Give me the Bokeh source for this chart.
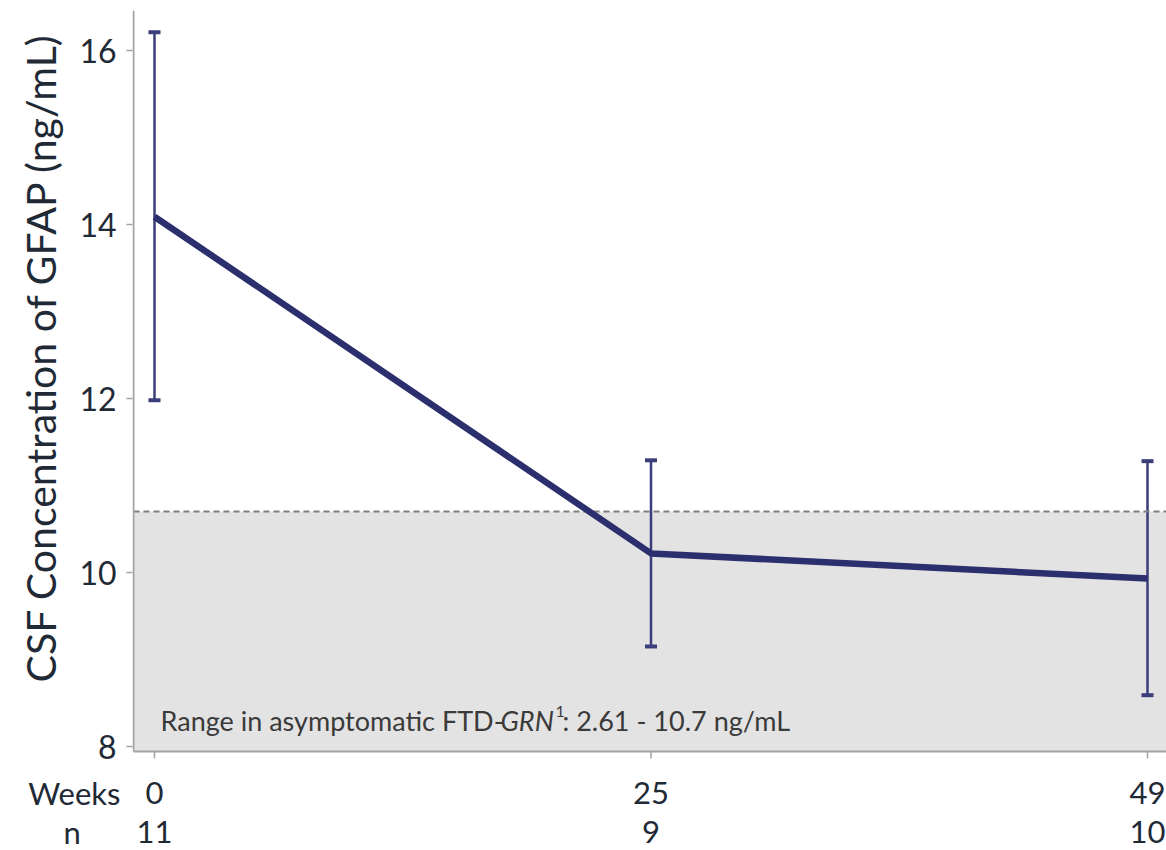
from bokeh.plotting import figure
from bokeh.layouts import column
from bokeh.models import (Range1d, BoxAnnotation, Whisker, TeeHead, Title,
                          ColumnDataSource, FixedTicker)
from bokeh.core.properties import value
from bokeh.embed import file_html
from bokeh.resources import INLINE

# CSF GFAP concentration by visit
weeks = ["0", "25", "49"]
n_subjects = ["11", "9", "10"]
gfap_mean = [14.09, 10.22, 9.93]
gfap_upper = [16.21, 11.29, 11.28]
gfap_lower = [11.98, 9.15, 8.59]
reference_upper = 10.7
y_ticks = [8, 10, 12, 14, 16]

FONT = "Lato"
TEXT = "#1f2a36"
NAVY = "#2c2f6d"
BAR = "#3a3e7b"
AXIS = "#a3a3a3"
NBSP = "\u00a0"

W = 1166
LEFT = 132          # frame left edge in pixels
STEP = 496.5        # pixels between visits
X0_PX = 154         # pixel position of the first visit
PX_PER_UNIT = 87.0  # pixels per ng/mL
pos = list(range(len(weeks)))
x_lo = (LEFT - X0_PX) / STEP
x_hi = (W - X0_PX) / STEP
x_axis = (LEFT + 1 - X0_PX) / STEP

y_top = 16.46
y_axis = 7.943                      # value at the horizontal axis line
H_MAIN = 770
y_bottom = y_top - (H_MAIN - 10) / PX_PER_UNIT

src = ColumnDataSource(dict(x=pos, mean=gfap_mean, upper=gfap_upper, lower=gfap_lower))

# ---- main panel -------------------------------------------------------------
p = figure(width=W, height=H_MAIN, output_backend="svg", toolbar_location=None,
           x_range=Range1d(x_lo, x_hi), y_range=Range1d(y_bottom, y_top),
           x_axis_location=None,
           min_border_left=LEFT, min_border_right=0, min_border_top=10,
           min_border_bottom=0)
p.outline_line_color = None
p.xgrid.visible = False
p.ygrid.visible = False
p.border_fill_color = "white"

# shaded range observed in asymptomatic carriers
p.add_layout(BoxAnnotation(left=x_axis, bottom=y_axis, top=reference_upper,
                           fill_color="#e3e3e3", fill_alpha=1.0,
                           line_color=None, level="underlay"))
p.segment(x0=[x_axis], y0=[reference_upper], x1=[x_hi], y1=[reference_upper],
          line_color="#7f7f7f", line_width=2, line_dash="6 4")

# axis lines and x ticks
p.segment(x0=[x_axis], y0=[y_axis], x1=[x_axis], y1=[y_top],
          line_color=AXIS, line_width=2)
p.segment(x0=[x_axis], y0=[y_axis], x1=[x_hi], y1=[y_axis],
          line_color=AXIS, line_width=2)
p.segment(x0=pos, y0=[y_axis] * len(pos), x1=pos,
          y1=[y_axis - 7 / PX_PER_UNIT] * len(pos), line_color=AXIS, line_width=1.5)

# error bars
p.add_layout(Whisker(source=src, base="x", upper="upper", lower="lower",
                     line_color=BAR, line_width=2.5,
                     upper_head=TeeHead(size=12, line_color=BAR, line_width=4),
                     lower_head=TeeHead(size=12, line_color=BAR, line_width=4)))

p.line("x", "mean", source=src, line_color=NAVY, line_width=6.5, line_join="round")

# caption with italic gene name and superscript
cap_y = 8.3
cap_color = "#3a3a3a"
cap_size = "27px"
cap_parts = [("Range in asymptomatic FTD-", 6, 0, "normal", cap_size),
             ("GRN", 346, 0, "italic", cap_size),
             ("1", 401, 9, "normal", "16px"),
             (": 2.61 - 10.7 ng/mL", 408, 0, "normal", cap_size)]
for txt, dx, dy, style, size in cap_parts:
    p.text(x=[0], y=[cap_y], text=[txt], x_offset=dx, y_offset=-dy,
           text_font=value(FONT), text_font_style=style, text_font_size=size,
           text_color=cap_color, text_baseline="alphabetic", text_align="left")

yax = p.yaxis[0]
yax.ticker = FixedTicker(ticks=y_ticks)
yax.axis_line_color = None
yax.major_tick_line_color = AXIS
yax.major_tick_line_width = 1.5
yax.major_tick_out = 6
yax.major_tick_in = 0
yax.minor_tick_line_color = None
yax.major_label_text_font = FONT
yax.major_label_text_font_size = "32px"
yax.major_label_text_color = TEXT
yax.major_label_standoff = 10

p.add_layout(Title(text="CSF Concentration of GFAP (ng/mL)", align="left",
                   offset=88, standoff=24, text_font=FONT, text_font_size="41px",
                   text_font_style="normal", text_color=TEXT), "left")

# ---- visit and sample-size rows -----------------------------------------------
H_ROWS = 850 - H_MAIN
row_weeks = 792 - H_MAIN
row_n = 831 - H_MAIN
b = figure(width=W, height=H_ROWS, output_backend="svg", toolbar_location=None,
           x_range=p.x_range, y_range=Range1d(H_ROWS, 0),
           x_axis_location=None,
           min_border_left=LEFT, min_border_right=0, min_border_top=0,
           min_border_bottom=0)
b.outline_line_color = None
b.xgrid.visible = False
b.ygrid.visible = False

bax = b.yaxis[0]
bax.ticker = FixedTicker(ticks=[row_weeks, row_n])
bax.major_label_overrides = {row_weeks: "Weeks", row_n: "n" + NBSP * 5}
bax.axis_line_color = None
bax.major_tick_line_color = None
bax.minor_tick_line_color = None
bax.major_tick_out = 0
bax.major_tick_in = 0
bax.major_label_standoff = 12
bax.major_label_text_font = FONT
bax.major_label_text_font_size = "31px"
bax.major_label_text_color = TEXT

b.text(x=pos, y=[row_weeks] * len(pos), text=weeks, text_align="center",
       text_baseline="middle", text_font=value(FONT), text_font_size="31px",
       text_color=TEXT)
b.text(x=pos, y=[row_n] * len(pos), text=n_subjects, text_align="center",
       text_baseline="middle", text_font=value(FONT), text_font_size="31px",
       text_color=TEXT)

layout = column(p, b, spacing=0)
open("out.html", "w").write(file_html(layout, INLINE))
